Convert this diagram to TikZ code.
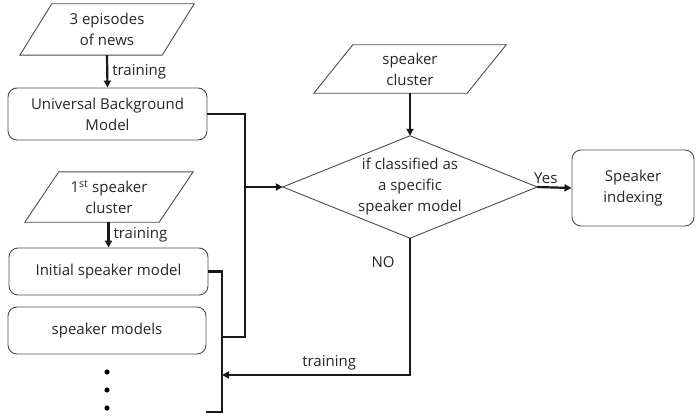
\documentclass[tikz,border=0pt]{standalone}
\usepackage{fontspec}
\setmainfont{Open Sans}
\usetikzlibrary{arrows.meta,calc}
\begin{document}
\begin{tikzpicture}[x=1pt,y=-1pt,
  font=\fontsize{15}{21}\selectfont,
  text=black!85,
  box/.style={draw=black!70,line width=0.9pt,rounded corners=9pt,align=center,inner sep=0pt},
  ghost/.style={inner sep=0pt,align=center},
  para/.style={draw=black!70,line width=0.9pt},
  conn/.style={draw=black!90,line width=2.2pt},
  arr/.style={conn,-{Triangle[length=7pt,width=7pt]}},
  lbl/.style={inner sep=1pt}]
\useasboundingbox (0,0) rectangle (696,420);
% parallelogram nodes
\node[ghost,minimum width=142pt,minimum height=51pt] (news) at (107,29.5) {3 episodes\\of news};
\draw[para] ([xshift=-16pt]news.south west) -- ([xshift=-16pt]news.south east) -- ([xshift=16pt]news.north east) -- ([xshift=16pt]news.north west) -- cycle;
\node[ghost,minimum width=134pt,minimum height=50pt] (c1) at (109,197) {1\textsuperscript{st} speaker\\cluster};
\draw[para] ([xshift=-17pt]c1.south west) -- ([xshift=-17pt]c1.south east) -- ([xshift=17pt]c1.north east) -- ([xshift=17pt]c1.north west) -- cycle;
\node[ghost,minimum width=153pt,minimum height=48pt] (sc) at (410,69) {speaker\\cluster};
\draw[para] ([xshift=-19.5pt]sc.south west) -- ([xshift=-19.5pt]sc.south east) -- ([xshift=19.5pt]sc.north east) -- ([xshift=19.5pt]sc.north west) -- cycle;
% boxes
\node[box,minimum width=199pt,minimum height=52pt] (ubm) at (107.5,114) {Universal Background\\Model};
\node[box,minimum width=199pt,minimum height=47pt] (init) at (108.5,271.5) {Initial speaker model};
\node[box,minimum width=198pt,minimum height=47pt] (spm) at (107,330.5) {speaker models};
\node[box,minimum width=122pt,minimum height=76pt] (idx) at (633,188) {Speaker\\indexing};
% decision
\node[ghost,minimum width=254pt,minimum height=102pt] (dec) at (410,187) {if classified as\\a specific\\speaker model};
\draw[para] (dec.north) -- (dec.east) -- (dec.south) -- (dec.west) -- cycle;
% dots
\foreach \yy in {372,390,408} \fill (107,\yy) circle (2.6pt);
% connectors
\draw[arr] (news.south) -- node[lbl,right=3pt] {training} (ubm.north);
\draw[arr] (c1.south -| init.north) -- node[lbl,right=3pt] {training} (init.north);
\draw[arr] (sc.south) -- (dec.north);
\coordinate (j1) at (245,187);
\coordinate (j2) at (222,337);
\coordinate (bk) at (206,412);
\coordinate (fb) at (222,375);
\draw[conn] (ubm.east) -| (j1) -- (245,337) -- (j2);
\draw[arr] (j1) -- (dec.west);
\draw[conn] (init.east) -- (init.east -| j2) -- (j2 |- bk) -- (bk);
\draw[arr] (dec.east) -- node[lbl,above=2pt,pos=0.25] {Yes} (idx.west);
\draw[arr] (dec.south) -- (dec.south |- fb) -- node[lbl,above=3pt,pos=0.43] {training} (fb);
\node[lbl] (no) at (383,262) {NO};
\end{tikzpicture}
\end{document}
